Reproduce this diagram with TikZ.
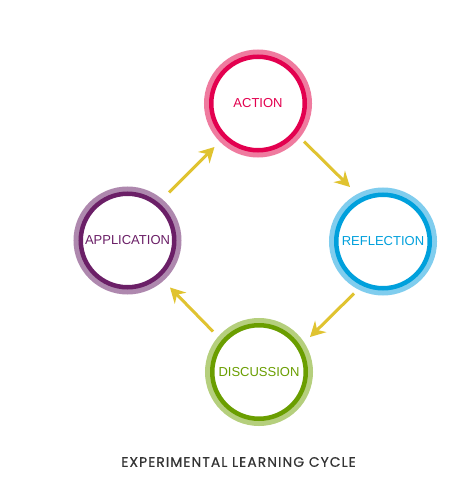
\documentclass[tikz,border=0pt]{standalone}
\usepackage{fontspec}
\setmainfont{Liberation Sans}
\newfontfamily\titlefont[LetterSpace=8,FakeBold=0.6]{Poppins}
\usetikzlibrary{arrows.meta}
\definecolor{actD}{HTML}{E3004F}
\definecolor{actL}{HTML}{EF7B9F}
\definecolor{refD}{HTML}{00A0DC}
\definecolor{refL}{HTML}{80CDEE}
\definecolor{disD}{HTML}{6A9E00}
\definecolor{disL}{HTML}{B5CF7D}
\definecolor{appD}{HTML}{6B1F67}
\definecolor{appL}{HTML}{AE88AE}
\definecolor{arrY}{HTML}{E0C330}
\definecolor{titleC}{HTML}{333333}
\tikzset{
  ring/.style n args={2}{circle, inner sep=0pt, minimum size=93.5pt,
    fill=white, draw=#1, line width=4.5pt, text=#1,
    font=\fontsize{13}{15}\selectfont,
    preaction={draw=#2, line width=14.5pt}},
  cyc/.style={draw=arrY, line width=3pt,
    -{Stealth[length=15pt, width=16pt, inset=5pt]}}
}
\begin{document}
\begin{tikzpicture}[x=1pt, y=-1pt]
\useasboundingbox (0,0) rectangle (474,492);
\node[ring={actD}{actL}] (act) at (258,103.5) {ACTION};
\node[ring={refD}{refL}] (ref) at (383,241.5) {REFLECTION};
\node[ring={disD}{disL}] (dis) at (259,372) {DISCUSSION};
\node[ring={appD}{appL}] (app) at (127.5,240.5) {APPLICATION};
\coordinate (a1s) at (304,141.5);
\coordinate (a1e) at (350,187);
\coordinate (a2s) at (354,293.5);
\coordinate (a2e) at (310,337);
\coordinate (a3s) at (213,331.5);
\coordinate (a3e) at (170,287.5);
\coordinate (a4s) at (169,192.5);
\coordinate (a4e) at (214.5,147);
\draw[cyc] (a1s) -- (a1e);
\draw[cyc] (a2s) -- (a2e);
\draw[cyc] (a3s) -- (a3e);
\draw[cyc] (a4s) -- (a4e);
\node[text=titleC, font=\titlefont\fontsize{13.8}{15}\selectfont] (title) at (238.5,462) {EXPERIMENTAL LEARNING CYCLE};
\end{tikzpicture}
\end{document}
